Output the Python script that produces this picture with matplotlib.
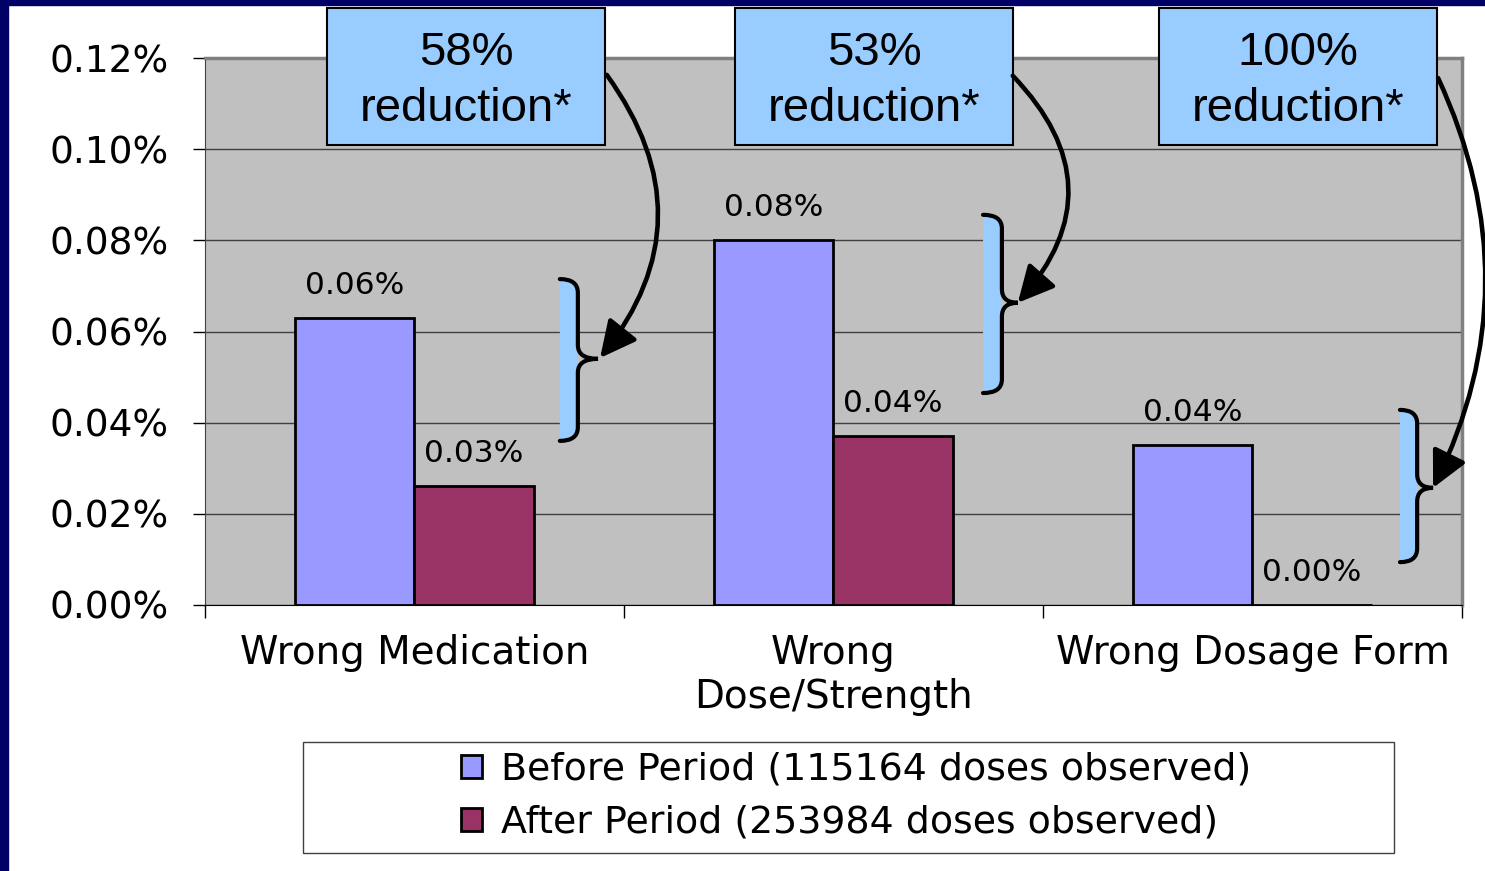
import numpy as np
import matplotlib.pyplot as plt
from matplotlib.patches import Rectangle, FancyArrowPatch, PathPatch
from matplotlib.path import Path
from matplotlib.ticker import FuncFormatter

plt.rcParams['font.family'] = 'DejaVu Sans'

# data (percent of doses observed)
categories = ['Wrong Medication', 'Wrong\nDose/Strength', 'Wrong Dosage Form']
before = [0.063, 0.080, 0.035]
after = [0.026, 0.037, 0.0]
before_lbl = ['0.06%', '0.08%', '0.04%']
after_lbl = ['0.03%', '0.04%', '0.00%']
series_names = ['Before Period (115164 doses observed)',
                'After Period (253984 doses observed)']
reductions = ['58%', '53%', '100%']
y_ticks = [0, 0.02, 0.04, 0.06, 0.08, 0.10, 0.12]

fig = plt.figure(figsize=(14.85, 8.71), dpi=100)
ax = fig.add_axes([0.138, 0.3054, 0.8465, 0.628])
ax.set_facecolor('#C0C0C0')

x = np.arange(len(categories))
w = 0.285
b1 = ax.bar(x - w/2, before, w, color='#9999FF', edgecolor='black', linewidth=2, zorder=3)
b2 = ax.bar(x + w/2, after, w, color='#993366', edgecolor='black', linewidth=2, zorder=3)
ax.bar_label(b1, labels=before_lbl, padding=13, fontsize=22.5)
ax.bar_label(b2, labels=after_lbl, padding=13, fontsize=22.5)

ax.set_xlim(-0.5, 2.5)
ax.set_ylim(0, 0.12)
ax.set_yticks(y_ticks)
ax.yaxis.set_major_formatter(FuncFormatter(lambda v, p: f'{v:.2f}%'))
ax.tick_params(axis='y', labelsize=27, length=9, width=1, pad=17)
ax.set_xticks(x)
ax.set_xticklabels(categories, fontsize=28, linespacing=1.2)
ax.tick_params(axis='x', length=0, pad=21)
ax.set_xticks([-0.5, 0.5, 1.5, 2.5], minor=True)
ax.tick_params(axis='x', which='minor', length=9, width=1)
ax.yaxis.grid(True, color='#404040', lw=1)
ax.set_axisbelow(True)
ax.spines['left'].set_color('#404040')
ax.spines['bottom'].set_color('black')
for s in ['top', 'right']:
    ax.spines[s].set_color('#808080')
    ax.spines[s].set_linewidth(2.5)

# reduction call-out boxes
box_x = [-0.209, 0.765, 1.777]
box_w = 0.6635
box_y = 0.1009
box_h = 0.0301
for bx, red in zip(box_x, reductions):
    ax.add_patch(Rectangle((bx, box_y), box_w, box_h, facecolor='#99CCFF',
                           edgecolor='black', lw=1.5, clip_on=False, zorder=5))
    ax.text(bx + box_w/2, box_y + box_h/2 - 0.001, f'{red}\nreduction*', ha='center', va='center',
            fontsize=34, family='Liberation Sans', linespacing=1.38, zorder=6)

# braces: left, spine, tip, top, mid, bottom
braces = [(0.347, 0.390, 0.438, 0.0715, 0.0540, 0.0360),
          (1.357, 1.402, 1.440, 0.0856, 0.0663, 0.0465),
          (2.352, 2.393, 2.431, 0.0428, 0.0257, 0.0094)]
r = 0.003
M, C, L2, CL = Path.MOVETO, Path.CURVE3, Path.LINETO, Path.CLOSEPOLY
for Lx, S, T, top, mid, bot in braces:
    fv = [(Lx, top), (S, top), (S, top - r), (S, bot + r), (S, bot), (Lx, bot), (Lx, top)]
    fc = [M, C, C, L2, C, C, CL]
    ax.add_patch(PathPatch(Path(fv, fc), facecolor='#99CCFF', edgecolor='none', zorder=4))
    sv = [(Lx, top), (S, top), (S, top - r), (S, mid + r), (S, mid), (T, mid),
          (S, mid), (S, mid - r), (S, bot + r), (S, bot), (Lx, bot)]
    sc = [M, C, C, L2, C, C, C, C, L2, C, C]
    ax.add_patch(PathPatch(Path(sv, sc), facecolor='none', edgecolor='black', lw=3,
                           capstyle='round', zorder=5))

# curved arrows from boxes to braces
arrows = [((0.459, 0.1163), (0.443, 0.0542), -0.38),
          ((1.428, 0.1161), (1.440, 0.0663), -0.46),
          ((2.443, 0.1156), (2.431, 0.0257), -0.24)]
for a, b, rad in arrows:
    ax.add_patch(FancyArrowPatch(a, b, connectionstyle=f'arc3,rad={rad}',
                                 arrowstyle='-|>,head_length=1.0,head_width=0.5',
                                 mutation_scale=22, lw=3.3, color='black',
                                 shrinkA=0, shrinkB=0, clip_on=False, zorder=6))

# legend with its own wide frame
fig.legend(handles=[b1, b2], labels=series_names, loc='center',
           bbox_to_anchor=(0.5764, 0.0860), frameon=False, fontsize=27.3,
           handlelength=0.55, handleheight=0.55, handletextpad=0.5, labelspacing=0.45)
fig.add_artist(Rectangle((0.204, 0.0207), 0.7347, 0.1274, transform=fig.transFigure,
                         fill=False, edgecolor='#404040', lw=1))

# slide border
fig.add_artist(Rectangle((0, 0), 0.0054, 1, transform=fig.transFigure, color='#000066'))
fig.add_artist(Rectangle((0, 0.9943), 1, 0.0057, transform=fig.transFigure, color='#000066'))

fig.savefig('out.png', dpi=100)
